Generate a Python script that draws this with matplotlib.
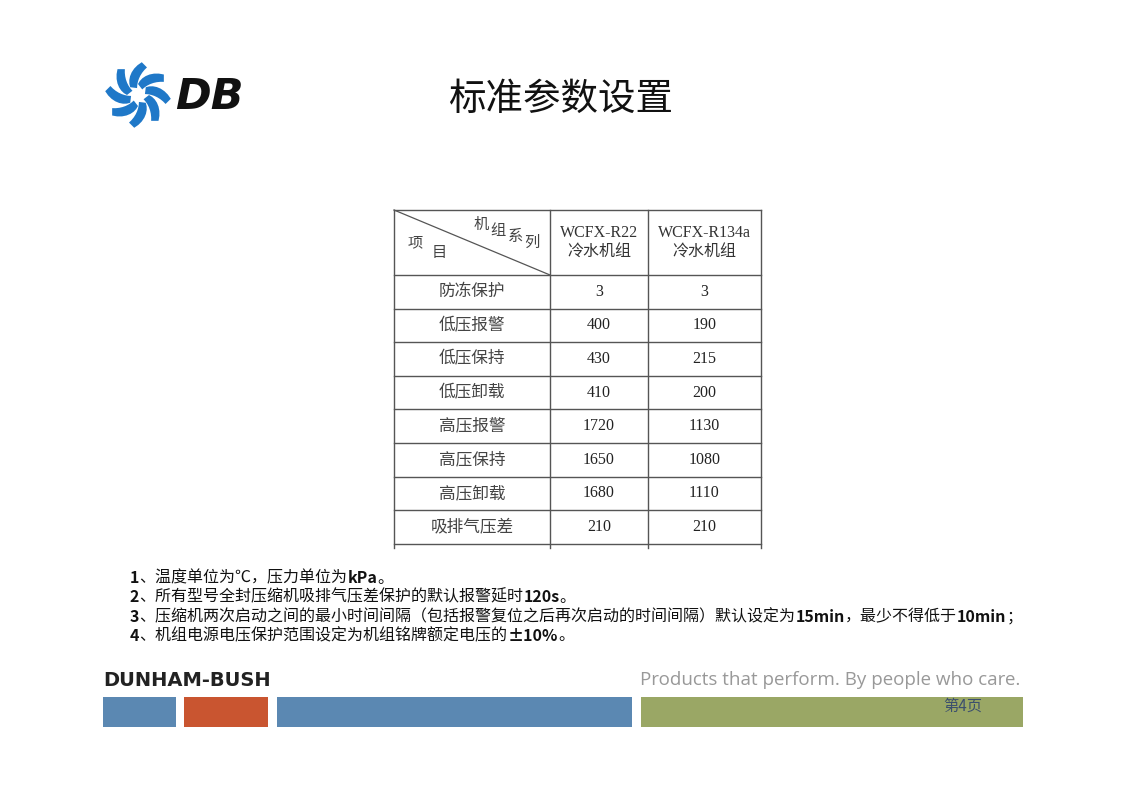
import matplotlib
matplotlib.use("Agg")
import matplotlib.pyplot as plt
import numpy as np
from matplotlib.patches import Rectangle, Polygon

items = ["防冻保护", "低压报警", "低压保持", "低压卸载", "高压报警", "高压保持", "高压卸载", "吸排气压差"]
r22 = ["3", "400", "430", "410", "1720", "1650", "1680", "210"]
r134a = ["3", "190", "215", "200", "1130", "1080", "1110", "210"]
col_heads = ["WCFX-R22\n冷水机组", "WCFX-R134a\n冷水机组"]
notes = [
    [("1", True), ("、温度单位为℃，压力单位为", False), ("kPa", True), ("。", False)],
    [("2", True), ("、所有型号全封压缩机吸排气压差保护的默认报警延时", False), ("120s", True), ("。", False)],
    [("3", True), ("、压缩机两次启动之间的最小时间间隔（包括报警复位之后再次启动的时间间隔）默认设定为", False), ("15min", True), ("，最少不得低于", False), ("10min", True), ("；", False)],
    [("4", True), ("、机组电源电压保护范围设定为机组铭牌额定电压的", False), ("±10%", True), ("。", False)],
]

CJK = "Noto Sans CJK SC"
SERIF = ["Liberation Serif", "Noto Sans CJK SC"]

fig = plt.figure(figsize=(11.23, 7.93), dpi=100)
ax = fig.add_axes([0, 0, 1, 1])
ax.set_xlim(0, 1123); ax.set_ylim(793, 0); ax.axis("off")

# title
ax.text(561, 99, "标准参数设置", fontsize=27, family=CJK, ha="center", va="center", color="#111")

# logo
cx, cy = 138, 95
for k in range(8):
    a = np.deg2rad(k * 45)
    pts = []
    for t in np.linspace(0, 1, 8):
        r = 11 + 22 * t
        ang = a + 0.9 * t
        pts.append((cx + r * np.cos(ang), cy + r * np.sin(ang)))
    for t in np.linspace(1, 0, 8):
        r = 11 + 22 * t
        ang = a + 0.9 * t + 0.45 * (1 - t) + 0.2
        pts.append((cx + (r - 4) * np.cos(ang), cy + (r - 4) * np.sin(ang)))
    ax.add_patch(Polygon(pts, closed=True, color="#1f78c8", lw=0))
ax.text(175, 97, "DB", fontsize=31, fontweight="bold", style="italic", color="#111", va="center", ha="left", family="DejaVu Sans")

# table
xs = [394, 550, 648, 761]
ys = [210, 275] + [275 + 33.6 * (i + 1) for i in range(len(items))]
lc = "#555"
for y in ys:
    ax.plot([xs[0], xs[-1]], [y, y], color=lc, lw=1)
for x in xs:
    ax.plot([x, x], [ys[0], ys[-1] + 4], color=lc, lw=1)
ax.plot([xs[0], xs[1]], [ys[0], ys[1]], color=lc, lw=0.9)
ax.text(408, 243, "项", fontsize=11, family=CJK, color="#444", va="center")
ax.text(432, 253, "目", fontsize=11, family=CJK, color="#444", va="center")
ax.text(474, 224, "机", fontsize=11, family=CJK, color="#444", va="center")
ax.text(490, 230, "组", fontsize=11, family=CJK, color="#444", va="center")
ax.text(508, 236, "系", fontsize=11, family=CJK, color="#444", va="center")
ax.text(524, 242, "列", fontsize=11, family=CJK, color="#444", va="center")
for j, h in enumerate(col_heads):
    ax.text((xs[j + 1] + xs[j + 2]) / 2, 243, h, fontsize=11.5, family=SERIF, color="#333",
            ha="center", va="center", linespacing=1.35)
for i in range(len(items)):
    yc = (ys[i + 1] + ys[i + 2]) / 2
    ax.text((xs[0] + xs[1]) / 2, yc, items[i], fontsize=12, family=CJK, color="#444", ha="center", va="center")
    ax.text((xs[1] + xs[2]) / 2, yc, r22[i], fontsize=11.5, family=SERIF, color="#222", ha="center", va="center")
    ax.text((xs[2] + xs[3]) / 2, yc, r134a[i], fontsize=11.5, family=SERIF, color="#222", ha="center", va="center")

# notes
fig.canvas.draw()
r = fig.canvas.get_renderer()
inv = ax.transData.inverted()
for li, parts in enumerate(notes):
    x = 130
    y = 578 + li * 19.3
    for s, b in parts:
        t = ax.text(x, y, s, fontsize=11.5, family=CJK, fontweight="bold" if b else "normal",
                    color="#111", va="center", ha="left")
        bb = t.get_window_extent(renderer=r)
        x0 = inv.transform((bb.x0, bb.y0))[0]
        x1 = inv.transform((bb.x1, bb.y0))[0]
        x += x1 - x0

# footer
ax.text(103, 681, "DUNHAM-BUSH", fontsize=14, fontweight="bold", color="#222", va="center", family="DejaVu Sans")
ax.text(1020, 680, "Products that perform. By people who care.", fontsize=13.5, color="#999",
        ha="right", va="center", family="Open Sans")
for x0, x1, c in [(103, 176, "#5b88b2"), (184, 268, "#c95530"), (277, 632, "#5b88b2"), (641, 1023, "#9aa765")]:
    ax.add_patch(Rectangle((x0, 697), x1 - x0, 30, color=c, lw=0))
ax.text(963, 706, "第4页", fontsize=11, family=CJK, color="#3c4f6e", ha="center", va="center")

fig.savefig("out.png", dpi=100)
